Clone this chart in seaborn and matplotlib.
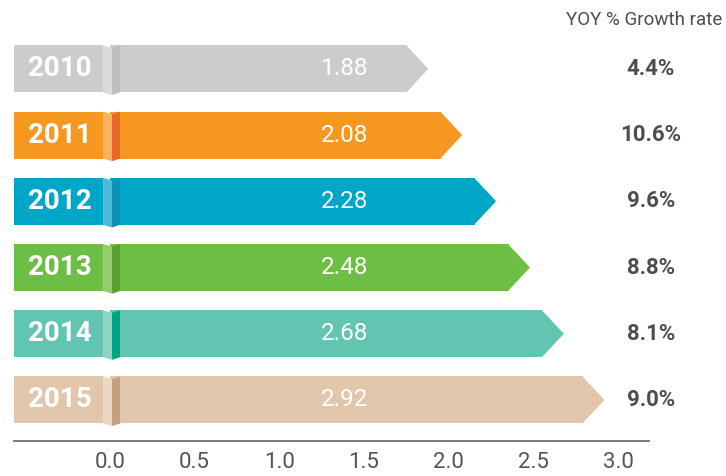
import numpy as np
import pandas as pd
import matplotlib
matplotlib.use("Agg")
import matplotlib.pyplot as plt
import seaborn as sns
from matplotlib.patches import Polygon
from matplotlib.transforms import blended_transform_factory

# ---- data ----
years = ["2010", "2011", "2012", "2013", "2014", "2015"]
values = [1.88, 2.08, 2.28, 2.48, 2.68, 2.92]
growth = ["4.4%", "10.6%", "9.6%", "8.8%", "8.1%", "9.0%"]
value_labels = ["1.88", "2.08", "2.28", "2.48", "2.68", "2.92"]
xticks = [0.0, 0.5, 1.0, 1.5, 2.0, 2.5, 3.0]
xtick_labels = ["0.0", "0.5", "1.0", "1.5", "2.0", "2.5", "3.0"]
header = "YOY % Growth rate"

main_colors = ["#cccccc", "#f6971f", "#00a6c8", "#6dbe45", "#62c5b1", "#e1c6ab"]
light_colors = ["#dadada", "#f9b260", "#4cb9d6", "#94cd6e", "#8fd3c3", "#ebd7c3"]
dark_colors = ["#bdbdbd", "#e8692a", "#0e8fb3", "#5a9e32", "#00a383", "#c4a07f"]

sns.set_theme(style="white")
plt.rcParams["font.family"] = ["Roboto", "DejaVu Sans"]

fig = plt.figure(figsize=(7.26, 4.76), dpi=100)
ax = fig.add_axes([14 / 726, 35 / 476, 635 / 726, 441 / 476])

HEAD = 0.13
H = 0.355
X0 = -0.567
XL, XM, XR = -0.041, 0.012, 0.059
NOTCH = 0.04

df = pd.DataFrame({"year": years, "body": [v - HEAD + 0.004 for v in values]})
sns.barplot(data=df, x="body", y="year", hue="year", palette=main_colors,
            orient="h", width=2 * H, legend=False, ax=ax, saturation=1,
            linewidth=0, zorder=2)

for i, (v, c, lc, dc) in enumerate(zip(values, main_colors, light_colors, dark_colors)):
    # label section
    ax.barh(i, XL - X0, left=X0, height=2 * H, color=c, linewidth=0, zorder=2)
    # arrow head
    ax.add_patch(Polygon([(v - HEAD, i - H), (v, i), (v - HEAD, i + H)],
                         closed=True, facecolor=c, edgecolor="none", zorder=2))
    # divider (folded ribbon)
    ax.add_patch(Polygon([(XL, i - H), (XM, i - H + NOTCH), (XM, i + H + NOTCH), (XL, i + H)],
                         closed=True, facecolor=lc, edgecolor="none", zorder=3))
    ax.add_patch(Polygon([(XM, i - H + NOTCH), (XR, i - H), (XR, i + H), (XM, i + H + NOTCH)],
                         closed=True, facecolor=dc, edgecolor="none", zorder=3))
    # year label
    ax.text(-0.295, i, years[i], color="white", fontsize=20, fontweight="bold",
            ha="center", va="center", zorder=4)
    # value label
    ax.text(1.388, i, value_labels[i], color="white", fontsize=17.5,
            ha="center", va="center", zorder=4)

trans = blended_transform_factory(fig.transFigure, ax.transData)
for i, g in enumerate(growth):
    ax.text(651 / 726, i, g, transform=trans, color="#4d4d4d", fontsize=16,
            fontweight="bold", ha="center", va="center", clip_on=False)
ax.text(644 / 726, -0.74, header, transform=trans, color="#4d4d4d", fontsize=13.5,
        ha="center", va="center", clip_on=False)

ax.set_xlim(X0, 3.183)
ax.set_ylim(5.62, -1.04)
ax.set_xticks(xticks)
ax.set_xticklabels(xtick_labels, fontsize=16, color="#555555")
ax.tick_params(axis="x", length=0, pad=8)
ax.set_yticks([])
ax.set_xlabel("")
ax.set_ylabel("")
for s in ["top", "right", "left"]:
    ax.spines[s].set_visible(False)
ax.spines["bottom"].set_color("#707070")
ax.spines["bottom"].set_linewidth(1.3)
ax.set_facecolor("white")

fig.savefig("out.png", dpi=100, facecolor="white")
